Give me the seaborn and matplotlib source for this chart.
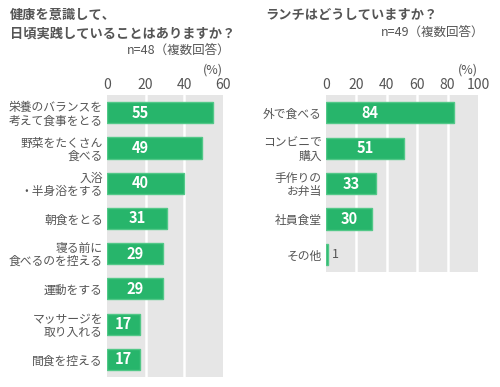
import matplotlib
matplotlib.use('Agg')
import matplotlib.pyplot as plt
import seaborn as sns
import pandas as pd

# データ
kenko_labels = ['栄養のバランスを\n考えて食事をとる', '野菜をたくさん\n食べる', '入浴\n・半身浴をする',
                '朝食をとる', '寝る前に\n食べるのを控える', '運動をする', 'マッサージを\n取り入れる', '間食を控える']
kenko_values = [55, 49, 40, 31, 29, 29, 17, 17]
kenko_ticks = [0, 20, 40, 60]

lunch_labels = ['外で食べる', 'コンビニで\n購入', '手作りの\nお弁当', '社員食堂', 'その他']
lunch_values = [84, 51, 33, 30, 1]
lunch_ticks = [0, 20, 40, 60, 80, 100]

sns.set_style('white')
plt.rcParams['font.family'] = ['Noto Sans CJK JP', 'DejaVu Sans']

GREEN = '#27b56b'
EDGE = '#52c888'
BG = '#e6e6e6'
TXT = '#555555'

W, H = 500, 387
fig = plt.figure(figsize=(5, 3.87), dpi=100)


def panel(rect, labels, values, ticks):
    ax = fig.add_axes(rect)
    df = pd.DataFrame({'label': labels, 'value': values})
    ax.set_facecolor(BG)
    sns.barplot(data=df, x='value', y='label', color=GREEN, saturation=1,
                width=0.6, edgecolor=EDGE, linewidth=1, ax=ax, zorder=3)
    ax.set_xlim(ticks[0], ticks[-1])
    ax.set_ylim(len(labels) - 0.5, -0.5)
    ax.set_xticks(ticks)
    ax.xaxis.tick_top()
    ax.tick_params(axis='x', length=0, pad=2, labelsize=10, colors=TXT)
    ax.tick_params(axis='y', length=0, pad=3, labelsize=8.5, colors=TXT)
    for lab in ax.get_yticklabels():
        lab.set_horizontalalignment('right')
        lab.set_multialignment('right')
        lab.set_linespacing(1.0)
    for t in ticks[1:-1]:
        ax.axvline(t, color='white', lw=1.8, zorder=2)
    for s in ax.spines.values():
        s.set_visible(False)
    ax.set_xlabel('')
    ax.set_ylabel('')
    ax.grid(False)
    span = ticks[-1] - ticks[0]
    for i, v in enumerate(values):
        if v / span < 0.05:
            ax.text(v + span * 0.03, i, str(v), va='center', ha='left',
                    fontsize=9, color=TXT, zorder=4)
        else:
            ax.text(min(v, span * 0.58) / 2, i, str(v), va='center', ha='center',
                    fontsize=10.5, fontweight='bold', color='white', zorder=4)
    # (%) は軸の上端から25px上
    ax_h = rect[3] * H
    ax.text(1.0, 1 + 25 / ax_h, '(%)', transform=ax.transAxes, ha='right', va='center',
            fontsize=9, color=TXT)
    return ax


panel([0.214, 0.026, 0.232, 0.728], kenko_labels, kenko_values, kenko_ticks)
panel([0.652, 0.297, 0.304, 0.457], lunch_labels, lunch_values, lunch_ticks)

fig.text(0.02, 1 - 15 / H, '健康を意識して、', ha='left', va='center',
         fontsize=9.5, fontweight='bold', color=TXT)
fig.text(0.02, 1 - 34 / H, '日頃実践していることはありますか？', ha='left', va='center',
         fontsize=9.5, fontweight='bold', color=TXT)
fig.text(0.462, 1 - 50 / H, 'n=48（複数回答）', ha='right', va='center', fontsize=9, color=TXT)
fig.text(0.53, 1 - 15 / H, 'ランチはどうしていますか？', ha='left', va='center',
         fontsize=9.5, fontweight='bold', color=TXT)
fig.text(0.968, 1 - 32 / H, 'n=49（複数回答）', ha='right', va='center', fontsize=9, color=TXT)

fig.savefig('out.png', dpi=100, facecolor='white')
